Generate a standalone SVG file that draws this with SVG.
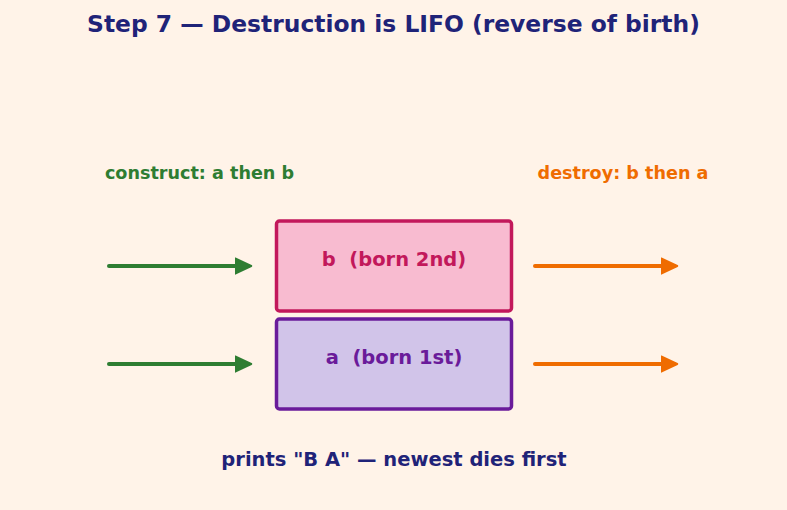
<svg xmlns="http://www.w3.org/2000/svg" width="787" height="510" viewBox="0 0 787 510">
<style>
text{font-family:"DejaVu Sans",sans-serif;font-weight:bold;white-space:pre}
.title{font-size:23.4px;fill:#1f2378}
.lbl{font-size:17.6px}
.node{font-size:19.5px}
.foot{font-size:19.5px;fill:#1f2378}
.g{stroke:#2e7d32;stroke-width:4;stroke-linecap:round;fill:none}
.o{stroke:#ef6c00;stroke-width:4;stroke-linecap:round;fill:none}
</style>
<defs>
<marker id="ag" markerWidth="5" markerHeight="5" refX="3.2" refY="2.5" orient="auto" markerUnits="strokeWidth"><path d="M0,0.6 L4,2.5 L0,4.4 Z" fill="#2e7d32" stroke="#2e7d32" stroke-width="0.5" stroke-linejoin="round"/></marker>
<marker id="ao" markerWidth="5" markerHeight="5" refX="3.2" refY="2.5" orient="auto" markerUnits="strokeWidth"><path d="M0,0.6 L4,2.5 L0,4.4 Z" fill="#ef6c00" stroke="#ef6c00" stroke-width="0.5" stroke-linejoin="round"/></marker>
</defs>
<rect width="787" height="510" fill="#fff3e8"/>
<text class="title" x="393.5" y="31.5" text-anchor="middle">Step 7 — Destruction is LIFO (reverse of birth)</text>
<text class="lbl" x="199.5" y="178.5" text-anchor="middle" fill="#2e7d32">construct: a then b</text>
<text class="lbl" x="623" y="178.5" text-anchor="middle" fill="#ef6c00">destroy: b then a</text>
<g id="node-b">
<rect x="276.5" y="221" width="235" height="90" rx="3" fill="#f8bbd0" stroke="#c2185b" stroke-width="3.5"/>
<text class="node" x="394" y="265.5" text-anchor="middle" fill="#c2185b" xml:space="preserve">b  (born 2nd)</text>
</g>
<g id="node-a">
<rect x="276.5" y="319" width="235" height="90" rx="3" fill="#d1c4e9" stroke="#6a1b9a" stroke-width="3.5"/>
<text class="node" x="394" y="363.5" text-anchor="middle" fill="#6a1b9a" xml:space="preserve">a  (born 1st)</text>
</g>
<g id="connectors">
<path class="g" d="M109,266 H248" marker-end="url(#ag)"/>
<path class="g" d="M109,364 H248" marker-end="url(#ag)"/>
<path class="o" d="M535,266 H674" marker-end="url(#ao)"/>
<path class="o" d="M535,364 H674" marker-end="url(#ao)"/>
</g>
<text class="foot" x="394" y="465.5" text-anchor="middle">prints "B A" — newest dies first</text>
</svg>
